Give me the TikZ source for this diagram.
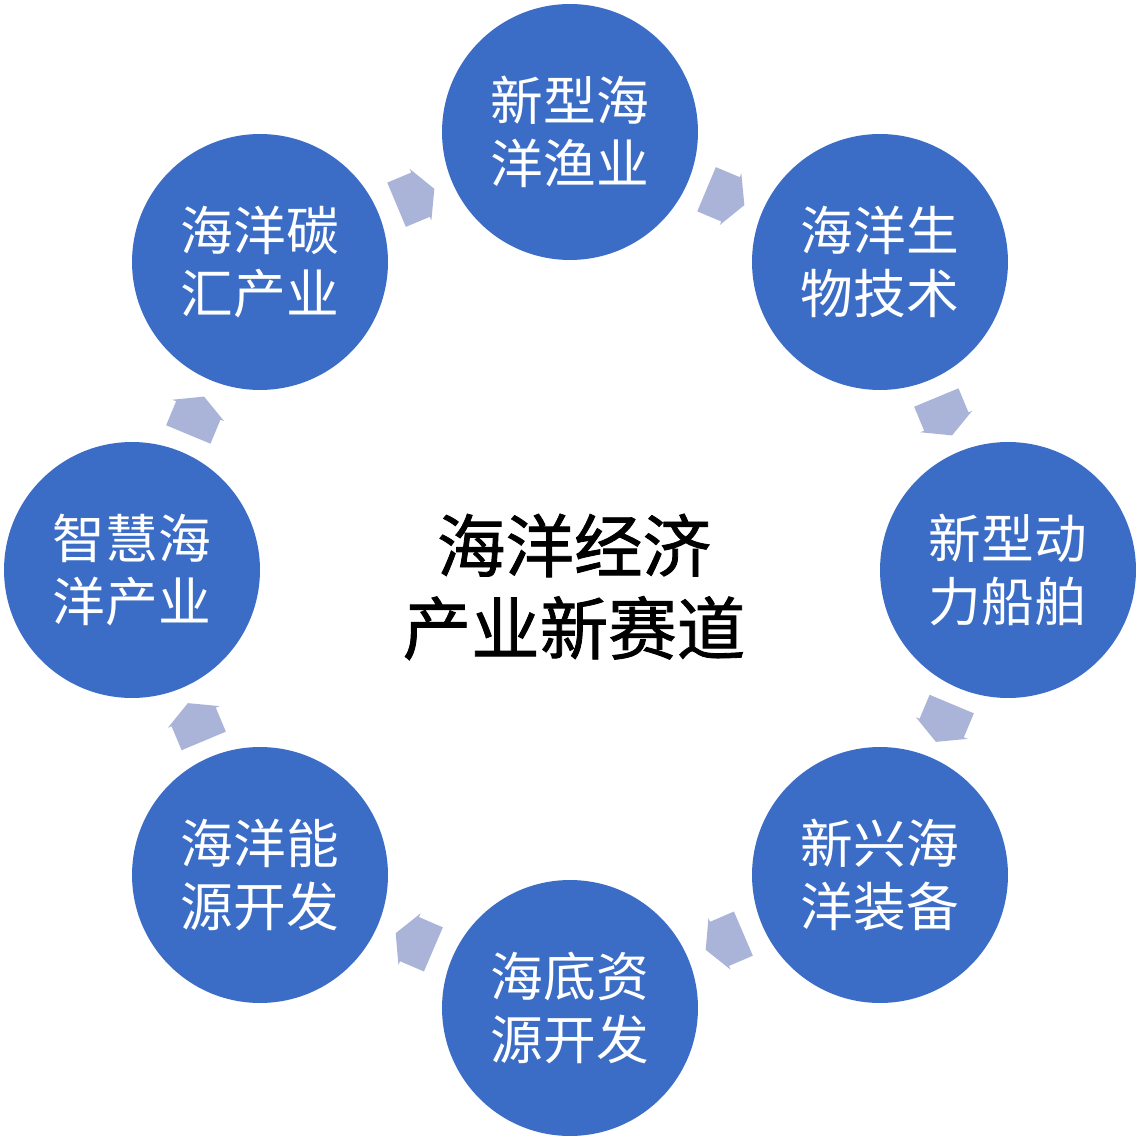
\documentclass[tikz,border=0pt]{standalone}
\usepackage{fontspec}
\newfontfamily\cjk{Noto Sans CJK SC}
\newfontfamily\cjkheavy[FakeBold=1.2]{Noto Sans CJK SC}
\usetikzlibrary{calc}
\definecolor{circblue}{HTML}{3B6DC7}
\definecolor{arrowfill}{HTML}{AAB4D8}
\tikzset{
  circ/.style={circle, fill=circblue, minimum size=5.12cm, inner sep=0pt,
    text=white, align=center, font=\cjk\fontsize{30}{36}\selectfont},
  centertext/.style={align=center, text=black,
    font=\cjkheavy\fontsize{39}{47}\selectfont},
  blockarrow/.pic={\fill[arrowfill] (-20,-24) -- (6,-24) -- (6,-28) -- (21,0)
     -- (6,28) -- (6,24) -- (-20,24) -- cycle;}
}
\newcommand{\ringarrow}[2]{%
  \path let \p1=($(#2)-(#1)$), \n1={atan2(\y1,\x1)} in
    ($(#1)!0.5!(#2)$) pic[rotate=\n1] {blockarrow};}
\begin{document}
\begin{tikzpicture}[x=0.02cm,y=-0.02cm]
\useasboundingbox (0,0) rectangle (1140,1138);
\fill[white] (0,0) rectangle (1140,1138);
\node[circ] (n1) at (570,132) {新型海\\洋渔业};
\node[circ] (n2) at (880,262) {海洋生\\物技术};
\node[circ] (n3) at (1008,570) {新型动\\力船舶};
\node[circ] (n4) at (880,875) {新兴海\\洋装备};
\node[circ] (n5) at (570,1008) {海底资\\源开发};
\node[circ] (n6) at (260,875) {海洋能\\源开发};
\node[circ] (n7) at (132,570) {智慧海\\洋产业};
\node[circ] (n8) at (260,262) {海洋碳\\汇产业};
\node[centertext] (c) at (574,587) {海洋经济\\产业新赛道};
\ringarrow{n8}{n1}
\ringarrow{n1}{n2}
\ringarrow{n2}{n3}
\ringarrow{n3}{n4}
\ringarrow{n4}{n5}
\ringarrow{n5}{n6}
\ringarrow{n6}{n7}
\ringarrow{n7}{n8}
\end{tikzpicture}
\end{document}
